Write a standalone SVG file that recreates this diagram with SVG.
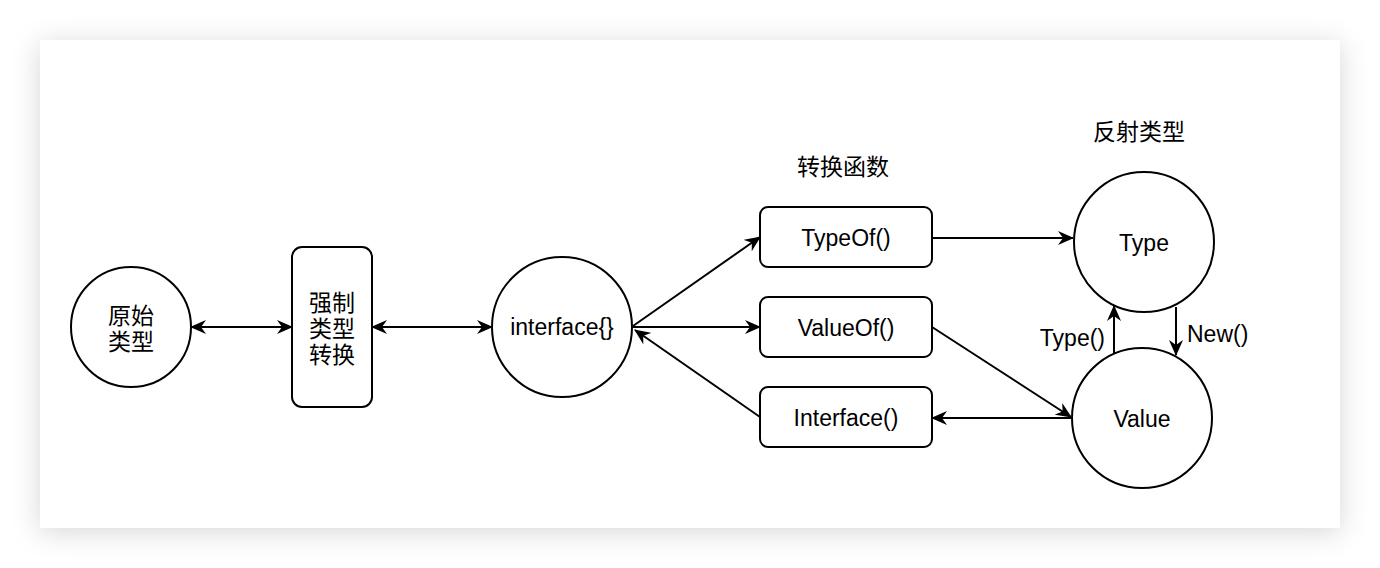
<svg xmlns="http://www.w3.org/2000/svg" width="1380" height="568" viewBox="0 0 1380 568">
<defs>
<filter id="sh" x="-10%" y="-20%" width="120%" height="140%">
<feDropShadow dx="0" dy="4" stdDeviation="14" flood-color="#000" flood-opacity="0.16"/>
</filter>
<marker id="ah" viewBox="0 0 16 14" refX="15" refY="7" markerWidth="16" markerHeight="14" markerUnits="userSpaceOnUse" orient="auto-start-reverse">
<path d="M0,0 L16,7 L0,14 L5,7 z" fill="#000"/>
</marker>
<style>
.n{fill:#fff;stroke:#000;stroke-width:2}
.t{font-family:"Liberation Sans",Arial,"Noto Sans CJK SC",sans-serif;font-size:23px;fill:#000;text-anchor:middle;dominant-baseline:central}
.c{font-family:"Noto Sans CJK SC","Liberation Sans",sans-serif;font-size:23px;fill:#000;text-anchor:middle;dominant-baseline:central}
.e{fill:none;stroke:#000;stroke-width:2}
</style>
</defs>
<rect width="1380" height="568" fill="#fff"/>
<rect x="40" y="40" width="1300" height="488" fill="#fff" filter="url(#sh)"/>
<g id="connectors">
<line class="e" x1="191" y1="327" x2="292" y2="327" marker-start="url(#ah)" marker-end="url(#ah)"/>
<line class="e" x1="372" y1="327" x2="492" y2="327" marker-start="url(#ah)" marker-end="url(#ah)"/>
<line class="e" x1="633" y1="326" x2="760" y2="237" marker-end="url(#ah)"/>
<line class="e" x1="633" y1="327" x2="760" y2="327" marker-end="url(#ah)"/>
<line class="e" x1="760" y1="417" x2="635" y2="330" marker-end="url(#ah)"/>
<line class="e" x1="932" y1="238" x2="1073" y2="238" marker-end="url(#ah)"/>
<line class="e" x1="932" y1="327" x2="1071" y2="417" marker-end="url(#ah)"/>
<line class="e" x1="1072" y1="418" x2="932" y2="418" marker-end="url(#ah)"/>
<line class="e" x1="1114" y1="353" x2="1114" y2="306" marker-end="url(#ah)"/>
<line class="e" x1="1176" y1="307" x2="1176" y2="355" marker-end="url(#ah)"/>
<text class="t" x="1105" y="338" style="text-anchor:end">Type()</text>
<text class="t" x="1187" y="334" style="text-anchor:start">New()</text>
</g>
<g id="primitive">
<circle class="n" cx="131" cy="327" r="60"/>
<text class="c" x="131" y="314">原始</text>
<text class="c" x="131" y="340">类型</text>
</g>
<g id="cast">
<rect class="n" x="292" y="247" width="80" height="160" rx="10"/>
<text class="c" x="332" y="301">强制</text>
<text class="c" x="332" y="327">类型</text>
<text class="c" x="332" y="353">转换</text>
</g>
<g id="iface">
<circle class="n" cx="562" cy="327" r="70"/>
<text class="t" x="562" y="327">interface{}</text>
</g>
<g id="funcs-label">
<text class="c" x="843" y="165">转换函数</text>
</g>
<g id="typeof">
<rect class="n" x="760" y="207" width="172" height="60" rx="8"/>
<text class="t" x="846" y="238">TypeOf()</text>
</g>
<g id="valueof">
<rect class="n" x="760" y="297" width="172" height="60" rx="8"/>
<text class="t" x="846" y="328">ValueOf()</text>
</g>
<g id="interfacefn">
<rect class="n" x="760" y="387" width="172" height="60" rx="8"/>
<text class="t" x="846" y="418">Interface()</text>
</g>
<g id="refl-label">
<text class="c" x="1139" y="130">反射类型</text>
</g>
<g id="type">
<circle class="n" cx="1144" cy="242" r="70"/>
<text class="t" x="1144" y="243">Type</text>
</g>
<g id="value">
<circle class="n" cx="1142" cy="418" r="70"/>
<text class="t" x="1142" y="419">Value</text>
</g>
</svg>
